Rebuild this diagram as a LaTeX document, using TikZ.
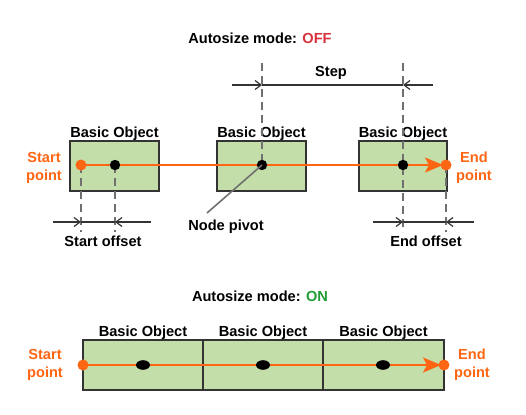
\documentclass[tikz,border=0pt]{standalone}
\usepackage{fontspec}
\setmainfont{Liberation Sans}
\usetikzlibrary{arrows.meta}
\definecolor{objfill}{HTML}{C3DEA8}
\definecolor{pathcol}{HTML}{FF6614}
\definecolor{offcol}{HTML}{D8323C}
\definecolor{oncol}{HTML}{1F9E33}
\definecolor{dimcol}{HTML}{333333}
\definecolor{guidecol}{HTML}{707070}
\tikzset{
  txt/.style={font=\bfseries\fontsize{14.6}{18}\selectfont, inner sep=0pt},
  ptxt/.style={txt, text=pathcol, align=center},
  obj/.style={draw=black!80, line width=1.3pt, fill=objfill, minimum height=50pt, inner sep=0pt,
    label={[txt]above:Basic Object}},
  guide/.style={guidecol, line width=2pt, dash pattern=on 8pt off 5pt},
  dim/.style={dimcol, line width=1.7pt},
  dimarrow/.style={dim, -{Straight Barb[length=6pt,width=9pt,line width=1.2pt]}},
  pathline/.style={pathcol, line width=2.2pt},
  patharrow/.style={pathline, -{Stealth[length=18pt,width=15pt,inset=4pt]}, shorten >=3pt},
}
\begin{document}
\begin{tikzpicture}[x=1pt,y=-1pt]
\useasboundingbox (0,0) rectangle (526,414);
\def\LY{165};\def\DY{222};
% autosize off
\node[txt] (off) at (260,38) {Autosize mode: \textcolor{offcol}{OFF}};
\node[obj, minimum width=89pt] (b1) at (114.5,166) {};
\node[obj, minimum width=89pt] (b2) at (261.5,166) {};
\node[obj, minimum width=88pt] (b3) at (403,166) {};
\coordinate (sp) at (81,\LY); \coordinate (ep) at (446,\LY);
\coordinate (p1) at (115,\LY); \coordinate (p2) at (262,\LY); \coordinate (p3) at (403,\LY);
% step
\coordinate (g1) at (262,63); \coordinate (g2) at (403,63);
\coordinate (s0) at (232,85); \coordinate (s1) at (262,85);
\coordinate (s2) at (403,85); \coordinate (s3) at (433,85);
\draw[guide] (g1)--(p2);
\draw[guide] (g2)--(403,232);
\draw[dim] (s1)--(s2);
\draw[dimarrow] (s0)--(s1);
\draw[dimarrow] (s3)--(s2);
\node[txt] (step) at (331,73) {Step};
% offsets
\coordinate (o0) at (53,\DY); \coordinate (o1) at (81,\DY);
\coordinate (o2) at (115,\DY); \coordinate (o3) at (151,\DY);
\coordinate (e0) at (373,\DY); \coordinate (e1) at (403,\DY);
\coordinate (e2) at (446,\DY); \coordinate (e3) at (474,\DY);
\draw[guide] (sp)--(81,232);
\draw[guide] (p1)--(115,232);
\draw[guide] (ep)--(446,232);
\draw[dim] (o1)--(o2); \draw[dimarrow] (o0)--(o1); \draw[dimarrow] (o3)--(o2);
\draw[dim] (e1)--(e2); \draw[dimarrow] (e0)--(e1); \draw[dimarrow] (e3)--(e2);
\node[txt] (so) at (103,241) {Start offset};
\node[txt] (eo) at (426,241) {End offset};
% path
\draw[patharrow] (sp)--(ep);
\foreach \p in {p1,p2,p3} \fill (\p) circle (5.2pt);
\fill[pathcol] (sp) circle (5.5pt);
\fill[pathcol] (ep) circle (5.5pt);
\node[ptxt] (st1) at (44,168) {Start\\point};
\node[ptxt] (en1) at (474,168) {End\\point};
\node[txt] (np) at (226,227) {Node pivot};
\coordinate (npl) at (207,213);
\draw[guidecol, line width=1.6pt] (npl)--(p2);
% autosize on
\node[txt] (on) at (260,296) {Autosize mode: \textcolor{oncol}{ON}};
\node[obj, minimum width=120pt] (a1) at (143,365) {};
\node[obj, minimum width=120pt] (a2) at (263,365) {};
\node[obj, minimum width=121pt] (a3) at (383.5,365) {};
\coordinate (sp2) at (83,365); \coordinate (ep2) at (444,365);
\draw[patharrow] (sp2)--(ep2);
\foreach \q in {143,263,383} \fill (\q,365) ellipse (7pt and 4.8pt);
\fill[pathcol] (sp2) circle (5.5pt);
\fill[pathcol] (ep2) circle (5.5pt);
\node[ptxt] (st2) at (45,365) {Start\\point};
\node[ptxt] (en2) at (472,365) {End\\point};
\end{tikzpicture}
\end{document}
